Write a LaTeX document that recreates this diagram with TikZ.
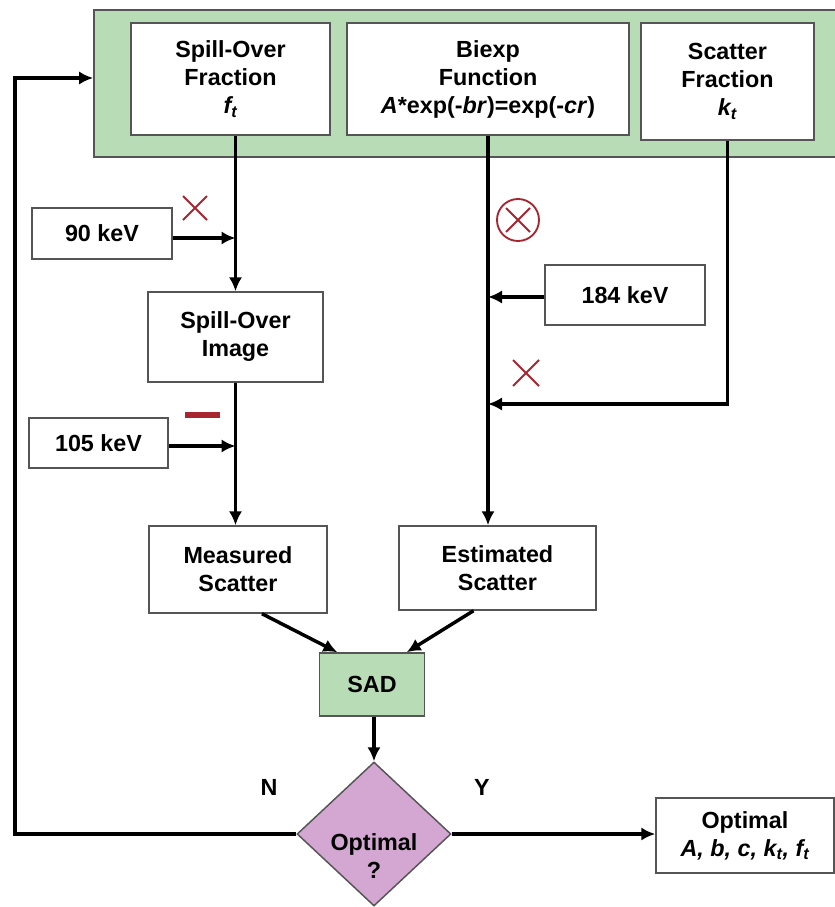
\documentclass[tikz,border=0pt]{standalone}
\usepackage{fontspec}
\setmainfont{Liberation Sans}
\usetikzlibrary{arrows.meta,shapes.geometric,calc}
\definecolor{barg}{RGB}{184,221,182}
\definecolor{bord}{RGB}{85,85,85}
\definecolor{pinkd}{RGB}{212,166,210}
\definecolor{mred}{RGB}{168,38,48}
\tikzset{
 box/.style={draw=bord, line width=1.1pt, fill=white, align=center, inner sep=0pt, font=\bfseries\fontsize{17.5}{21}\selectfont},
 arr/.style={line width=2.6pt, -{Latex[length=10.5pt,width=10pt]}},
 lbl/.style={font=\bfseries\fontsize{17.5}{21}\selectfont, inner sep=0pt, align=center},
 rx/.style={draw=mred, line width=1.4pt},
}
\begin{document}
\begin{tikzpicture}[x=0.75pt,y=-0.75pt]
\clip (0,0) rectangle (835,907);
% top bar
\node[draw=bord, line width=1.3pt, fill=barg, minimum width=563.25pt, minimum height=110.25pt, inner sep=0pt] (bar) at (469.5,83.5) {};
\node[box, minimum width=149.25pt, minimum height=84pt] (box1) at (230.5,79) {Spill-Over\\Fraction\\\textit{f\textsubscript{t}}};
\node[box, minimum width=211.5pt, minimum height=84pt] (box2) at (488,79) {Biexp\\Function\\\textit{A}*exp(-\textit{br})=exp(-\textit{cr})};
\node[box, minimum width=129.75pt, minimum height=87.75pt] (box3) at (727.5,81.5) {Scatter\\Fraction\\\textit{k\textsubscript{t}}};
% left column
\node[box, minimum width=105pt, minimum height=38.25pt] (kv90) at (102,233.5) {90 keV};
\node[box, minimum width=131.25pt, minimum height=67.5pt] (sov) at (235.5,337) {Spill-Over\\Image};
\node[box, minimum width=104.25pt, minimum height=37.5pt] (kv105) at (98.5,443) {105 keV};
\node[box, minimum width=133.5pt, minimum height=65.25pt] (ms) at (238,569.5) {Measured\\Scatter};
% right column
\node[box, minimum width=120pt, minimum height=45pt] (kv184) at (625,295) {184 keV};
\node[box, minimum width=147.75pt, minimum height=63pt] (es) at (497.5,568) {Estimated\\Scatter};
% bottom
\node[box, fill=barg, minimum width=78.75pt, minimum height=47.25pt] (sad) at (372,684.5) {SAD};
\node[draw=bord, line width=1.1pt, fill=pinkd, diamond, minimum width=115.5pt, minimum height=108pt, inner sep=0pt] (dia) at (374,834) {};
\node[lbl] (diatext) at (374,856) {Optimal\\?};
\node[box, minimum width=133.5pt, minimum height=56.25pt] (opt) at (745,835.5) {Optimal\\\textit{A, b, c, k\textsubscript{t}, f\textsubscript{t}}};
\node[lbl] (nlbl) at (269,787) {N};
\node[lbl] (ylbl) at (482,787) {Y};
% connectors
\draw[arr] (box1.south -| sov.north) -- (sov.north);
\draw[arr] (kv90.east |- 0,238) -- (sov.north |- 0,238);
\draw[arr] (sov.south) -- (sov.south |- ms.north);
\draw[arr] (kv105.east |- 0,446) -- (sov.south |- 0,446);
\draw[arr] (box2.south) -- (box2.south |- es.north);
\draw[arr] (kv184.west |- 0,297) -- (box2.south |- 0,297);
\coordinate (corner3) at (box3.south |- 0,404);
\draw[arr] (box3.south) -- (corner3) -- (box2.south |- corner3);
\draw[arr] ([xshift=18pt]ms.south) -- ([xshift=-26pt]sad.north);
\draw[arr] ([xshift=-18pt]es.south) -- ([xshift=26pt]sad.north);
\draw[arr] (dia.north |- sad.south) -- (dia.north);
\coordinate (loop) at (15,78);
\draw[arr] (dia.west) -| (loop) -- (loop -| bar.west);
\draw[arr] (dia.east) -- (dia.east -| opt.west);
% operators
\draw[rx] (183,196) -- (207,220) (183,220) -- (207,196);
\draw[mred, line width=5pt] (185,415) -- (220,415);
\draw[rx] (518,220) circle[radius=21];
\draw[rx] (506,208) -- (530,232) (506,232) -- (530,208);
\draw[rx] (513,360) -- (539,386) (513,386) -- (539,360);
\end{tikzpicture}
\end{document}
